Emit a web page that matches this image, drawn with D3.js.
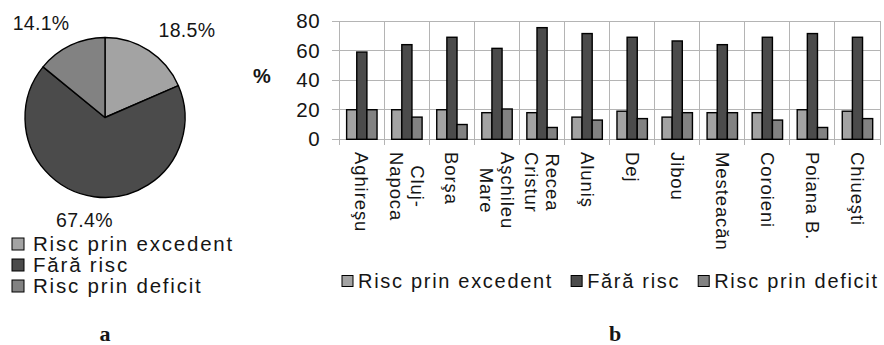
<!DOCTYPE html>
<html>
<head>
<meta charset="utf-8">
<script src="https://cdn.jsdelivr.net/npm/d3@7"></script>
<style>
  body { margin: 0; background: #fff; }
  svg { display: block; }
  text { font-family: "Liberation Sans", Arial, Helvetica, sans-serif; fill: #151515; }
</style>
</head>
<body>
<svg id="chart" width="884" height="345"></svg>
<script>
// Risk classes shared by both panels
const seriesNames = ["Risc prin excedent", "Fără risc", "Risc prin deficit"];
const seriesColors = ["#a3a3a3", "#4b4b4b", "#828282"];

// Panel a: overall share of each risk class (%)
const pieShares = [18.5, 67.4, 14.1];

// Panel b: share of each risk class per station (%)
const stations = ["Aghireşu", "Cluj-Napoca", "Borşa", "Aşchileu Mare", "Recea Cristur", "Aluniş",
                  "Dej", "Jibou", "Mesteacăn", "Coroieni", "Poiana B.", "Chiueşti"];
// axis label lines for each station (first line is drawn rightmost)
const stationLines = [["Aghireşu"], ["Cluj-", "Napoca"], ["Borşa"], ["Aşchileu", "Mare"],
                      ["Recea", "Cristur"], ["Aluniş"], ["Dej"], ["Jibou"], ["Mesteacăn"],
                      ["Coroieni"], ["Poiana B."], ["Chiueşti"]];
const excedent = [20, 20, 20, 18, 18, 15, 19, 15, 18, 18, 20, 19];
const faraRisc = [59, 64, 69, 61.5, 75.5, 71.5, 69, 66.5, 64, 69, 71.5, 69];
const deficit  = [20, 15, 10, 20.5, 8, 13, 14, 18, 18, 13, 8, 14];
const yTicks = [0, 20, 40, 60, 80];

const svg = d3.select("#chart");

/* ---------- panel a : pie ---------- */
const pieG = svg.append("g").attr("transform", "translate(105,117.5)");
const R = 80;
const pie = d3.pie().sort(null).value(d => d);
const arc = d3.arc().innerRadius(0).outerRadius(R);
const arcs = pie(pieShares);

pieG.selectAll("path").data(arcs).join("path")
  .attr("d", arc)
  .attr("fill", (d, i) => seriesColors[i])
  .attr("stroke", "#000").attr("stroke-width", 1.4).attr("stroke-linejoin", "round");

// percentage labels just outside each slice, pushed away along the slice's mid direction
const pctLabels = pieG.selectAll("text.pct").data(arcs).join("text")
  .attr("class", "pct")
  .style("font-size", "19.5px").style("letter-spacing", "0.3px")
  .attr("text-anchor", "middle")
  .attr("dy", "0.35em")
  .text(d => d.value.toFixed(1) + "%");
pctLabels.each(function(d) {
  const a = (d.startAngle + d.endAngle) / 2;
  const w = this.getComputedTextLength();
  const px = Math.sin(a) * (R + 17) + Math.sin(a) * w * 0.92;
  const py = -Math.cos(a) * (R + 17) - Math.cos(a) * 7;
  d3.select(this).attr("x", px).attr("y", py);
});

// legend below the pie
const legA = svg.append("g").attr("transform", "translate(12,237)");
const legARows = legA.selectAll("g").data(seriesNames).join("g")
  .attr("transform", (d, i) => `translate(0,${i * 21})`);
legARows.append("rect").attr("x", 0).attr("y", 1).attr("width", 12).attr("height", 12)
  .attr("fill", (d, i) => seriesColors[i]).attr("stroke", "#000").attr("stroke-width", 1);
legARows.append("text").attr("x", 21).attr("y", 7).attr("dy", "0.35em")
  .style("font-size", "20.5px").style("letter-spacing", "1.8px")
  .text(d => d);

svg.append("text").attr("x", 105).attr("y", 341).attr("text-anchor", "middle")
  .style("font-family", "'Liberation Serif','Times New Roman',serif")
  .style("font-weight", "bold").style("font-size", "22px").text("a");

/* ---------- panel b : grouped bars ---------- */
const plot = { left: 339.3, right: 880, top: 21, bottom: 139.3 };
const x = d3.scaleBand().domain(stations).range([plot.left, plot.right]).padding(0);
const y = d3.scaleLinear().domain([0, 80]).range([plot.bottom, plot.top]);
const groupW = x.bandwidth() * 0.675;
const xs = d3.scaleBand().domain([0, 1, 2]).range([0, groupW]).padding(0);
const gridColor = "#b4b4b4";

const chart = svg.append("g");

// horizontal grid lines with tick stubs to the left
chart.append("g").selectAll("line").data(yTicks).join("line")
  .attr("x1", plot.left - 7).attr("x2", plot.right)
  .attr("y1", d => y(d)).attr("y2", d => y(d))
  .attr("stroke", gridColor).attr("stroke-width", 1).attr("shape-rendering", "crispEdges");

// vertical separators between stations, extending below the axis as ticks
const bounds = stations.map(s => x(s)).concat([plot.right]);
chart.append("g").selectAll("line").data(bounds).join("line")
  .attr("x1", d => d).attr("x2", d => d)
  .attr("y1", plot.top).attr("y2", plot.bottom + 6)
  .attr("stroke", gridColor).attr("stroke-width", 1).attr("shape-rendering", "crispEdges");

// y tick labels
chart.append("g").selectAll("text").data(yTicks).join("text")
  .attr("x", plot.left - 19).attr("y", d => y(d)).attr("dy", "0.35em")
  .attr("text-anchor", "end").style("font-size", "20.5px").style("letter-spacing", "0.6px")
  .text(d => d);

chart.append("text").attr("x", 262).attr("y", y(40) - 4).attr("dy", "0.35em")
  .attr("text-anchor", "middle").style("font-size", "20px").style("font-weight", "bold")
  .text("%");

// bars
const seriesValues = [excedent, faraRisc, deficit];
const barGroups = chart.append("g").selectAll("g").data(stations).join("g")
  .attr("transform", s => `translate(${x(s) + (x.bandwidth() - groupW) / 2},0)`);
barGroups.selectAll("rect")
  .data((s, i) => seriesValues.map((vals, k) => ({ k, v: vals[i] })))
  .join("rect")
  .attr("x", d => xs(d.k)).attr("width", xs.bandwidth())
  .attr("y", d => y(d.v)).attr("height", d => y(0) - y(d.v))
  .attr("fill", d => seriesColors[d.k])
  .attr("stroke", "#000").attr("stroke-width", 1.4);

// station labels, rotated to read downwards
const labelTop = 152, lineH = 21;
chart.append("g").selectAll("g").data(stations).join("g")
  .attr("transform", s => `translate(${x(s) + x.bandwidth() / 2},${labelTop}) rotate(90)`)
  .each(function(s, idx) {
    const lines = stationLines[idx];
    const texts = d3.select(this).selectAll("text").data(lines).join("text")
      .style("font-size", "18.5px").style("letter-spacing", "0.9px")
      .attr("y", (l, i) => (i - (lines.length - 1) / 2) * lineH)
      .attr("dy", "0.35em")
      .text(l => l);
    const maxW = d3.max(texts.nodes(), n => n.getComputedTextLength());
    texts.attr("x", maxW / 2).attr("text-anchor", "middle");
  });

// legend under the bars
const legB = svg.append("g").attr("transform", "translate(342,281)");
let cursor = 0;
seriesNames.forEach((name, i) => {
  const item = legB.append("g").attr("transform", `translate(${cursor},0)`);
  item.append("rect").attr("x", 0).attr("y", -5.5).attr("width", 11).attr("height", 11)
    .attr("fill", seriesColors[i]).attr("stroke", "#000").attr("stroke-width", 1);
  const t = item.append("text").attr("x", 16).attr("y", 0).attr("dy", "0.35em")
    .style("font-size", "20px").style("letter-spacing", "1.7px").text(name);
  cursor += 16 + t.node().getComputedTextLength() + 18;
});

svg.append("text").attr("x", 615).attr("y", 341).attr("text-anchor", "middle")
  .style("font-family", "'Liberation Serif','Times New Roman',serif")
  .style("font-weight", "bold").style("font-size", "22px").text("b");
</script>
</body>
</html>
